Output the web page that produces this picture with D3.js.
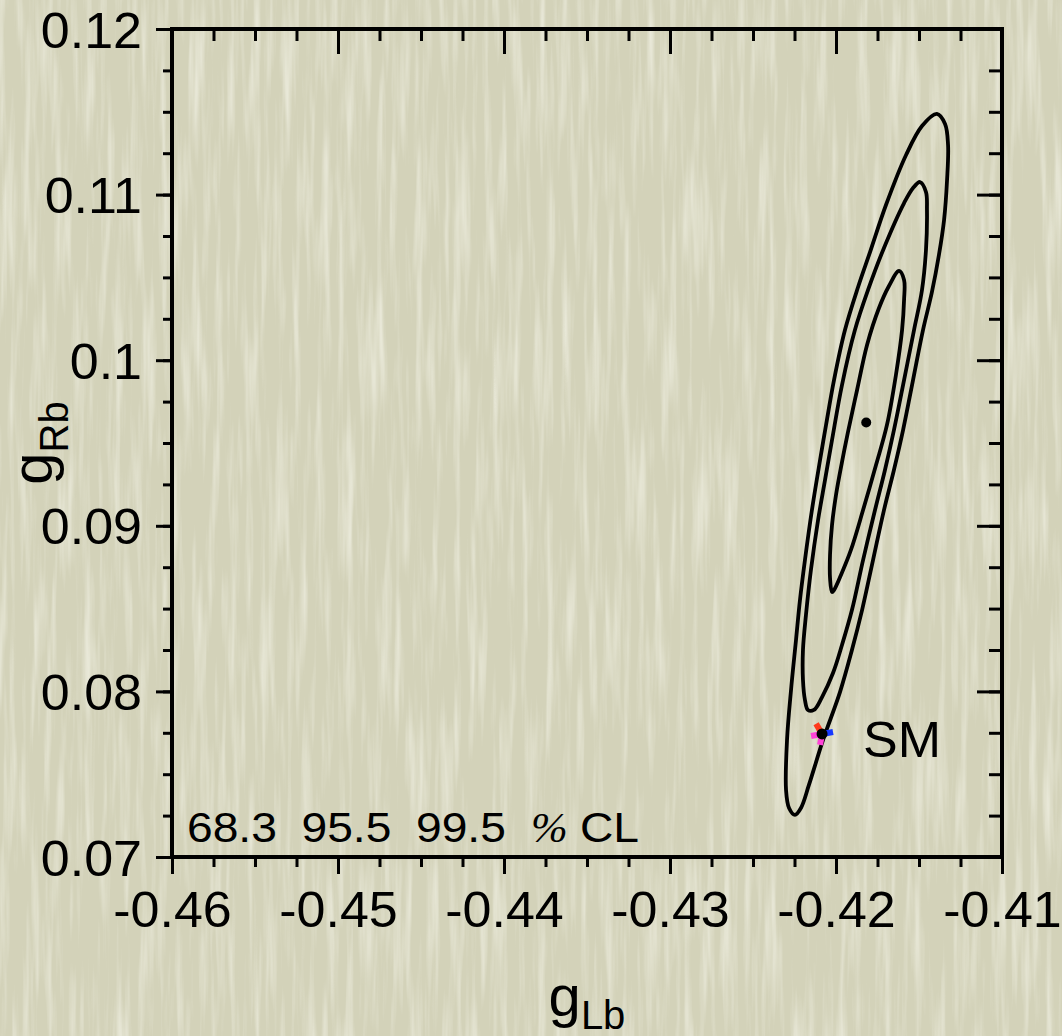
<!DOCTYPE html>
<html>
<head>
<meta charset="utf-8">
<title>gLb - gRb confidence contours</title>
<script src="https://d3js.org/d3.v7.min.js"></script>
<style>
body { margin: 0; background: #d4d3bc; }
svg { display: block; }
text { font-family: "Liberation Sans", Arial, Helvetica, sans-serif; fill: #000; }
</style>
</head>
<body>
<svg id="chart" width="1062" height="1036"></svg>
<script>
// axis setup
const xDomain = [-0.46, -0.41];
const yDomain = [0.07, 0.12];
const xTicks = [-0.46, -0.45, -0.44, -0.43, -0.42, -0.41];
const xTickLabels = ["-0.46", "-0.45", "-0.44", "-0.43", "-0.42", "-0.41"];
const yTicks = [0.07, 0.08, 0.09, 0.1, 0.11, 0.12];
const yTickLabels = ["0.07", "0.08", "0.09", "0.1", "0.11", "0.12"];
const minorStep = 0.0025;

// contours, [gLb, gRb]
const contour995 = [
  [-0.41392, 0.11487], [-0.41343, 0.11426], [-0.41325, 0.11300], [-0.41331, 0.11088],
  [-0.41349, 0.10847], [-0.41380, 0.10635], [-0.41422, 0.10412], [-0.41476, 0.10182],
  [-0.41536, 0.09880], [-0.41596, 0.09578], [-0.41651, 0.09337], [-0.41711, 0.09095],
  [-0.41777, 0.08793], [-0.41843, 0.08491], [-0.41904, 0.08250], [-0.41976, 0.07996],
  [-0.42078, 0.07707], [-0.42163, 0.07435], [-0.42211, 0.07296], [-0.42247, 0.07254],
  [-0.42283, 0.07296], [-0.42301, 0.07405], [-0.42295, 0.07707], [-0.42271, 0.08008],
  [-0.42241, 0.08310], [-0.42217, 0.08552], [-0.42187, 0.08793], [-0.42145, 0.09095],
  [-0.42096, 0.09397], [-0.42060, 0.09609], [-0.42012, 0.09880], [-0.41946, 0.10182],
  [-0.41867, 0.10442], [-0.41795, 0.10653], [-0.41699, 0.10937], [-0.41578, 0.11239],
  [-0.41482, 0.11414]
];
const contour955 = [
  [-0.41494, 0.11076], [-0.41458, 0.11016], [-0.41452, 0.10907], [-0.41458, 0.10665],
  [-0.41482, 0.10424], [-0.41530, 0.10182], [-0.41590, 0.09880], [-0.41651, 0.09578],
  [-0.41705, 0.09337], [-0.41765, 0.09095], [-0.41837, 0.08793], [-0.41904, 0.08491],
  [-0.41964, 0.08280], [-0.42018, 0.08111], [-0.42084, 0.07966], [-0.42133, 0.07888],
  [-0.42169, 0.07888], [-0.42187, 0.07948], [-0.42199, 0.08069], [-0.42199, 0.08250],
  [-0.42181, 0.08461], [-0.42151, 0.08733], [-0.42108, 0.09035], [-0.42066, 0.09277],
  [-0.42024, 0.09518], [-0.41964, 0.09850], [-0.41886, 0.10182], [-0.41807, 0.10424],
  [-0.41711, 0.10678], [-0.41590, 0.10949], [-0.41536, 0.11040]
];
const contour683 = [
  [-0.41620, 0.10539], [-0.41590, 0.10484], [-0.41590, 0.10364], [-0.41602, 0.10182],
  [-0.41639, 0.09911], [-0.41693, 0.09609], [-0.41759, 0.09367], [-0.41837, 0.09095],
  [-0.41910, 0.08854], [-0.41970, 0.08703], [-0.42012, 0.08612], [-0.42024, 0.08600],
  [-0.42036, 0.08685], [-0.42036, 0.08824], [-0.42024, 0.09005], [-0.42000, 0.09186],
  [-0.41964, 0.09385], [-0.41928, 0.09566], [-0.41873, 0.09820], [-0.41813, 0.10092],
  [-0.41741, 0.10315], [-0.41681, 0.10448]
];
const bestFit = [-0.41818, 0.09624];
const smPoint = [-0.42084, 0.07743];
// SM shifts for parameter variations [dgLb, dgRb]
const smShifts = [[-0.00036, 0.00062], [0.00066, 0.00012], [-0.00066, -0.00012], [-0.00012, -0.00066]];
const smShiftColors = ["#ff3a1c", "#1638ff", "#ff44d8", "#ff44d8"];
const clLevels = ["68.3", "95.5", "99.5"];

const W = 1062, H = 1036;
const plot = {left: 172, right: 1002, top: 29, bottom: 857};
const svg = d3.select("#chart");

const x = d3.scaleLinear().domain(xDomain).range([plot.left, plot.right]);
const y = d3.scaleLinear().domain(yDomain).range([plot.bottom, plot.top]);

// paper background with fine vertical streaks
const defs = svg.append("defs");
const flt = defs.append("filter").attr("id", "paper")
  .attr("x", 0).attr("y", 0).attr("width", "100%").attr("height", "100%");
flt.append("feTurbulence").attr("type", "fractalNoise")
  .attr("baseFrequency", "0.13 0.007").attr("numOctaves", 3).attr("seed", 11).attr("result", "n");
flt.append("feColorMatrix").attr("in", "n").attr("type", "matrix")
  .attr("values", "0 0 0 0 1  0 0 0 0 1  0 0 0 0 0.94  1.1 0 0 0 -0.5");
svg.append("rect").attr("width", W).attr("height", H).attr("fill", "#d3d2b9");
svg.append("rect").attr("width", W).attr("height", H).attr("fill", "#fff").attr("filter", "url(#paper)");

const minorX = d3.range(0, 21).map(i => xDomain[0] + i * minorStep);
const minorY = d3.range(0, 21).map(i => yDomain[0] + i * minorStep);

function addAxis(gen, tx, ty) {
  const g = svg.append("g").attr("transform", `translate(${tx},${ty})`).call(gen);
  g.select(".domain").remove();
  g.selectAll(".tick line").attr("stroke", "#000").attr("stroke-width", 3);
  return g;
}

// minor + major ticks, left/bottom outward, top/right inward
addAxis(d3.axisLeft(y).tickValues(minorY).tickSize(9).tickFormat(""), plot.left, 0);
addAxis(d3.axisBottom(x).tickValues(minorX).tickSize(10).tickFormat(""), 0, plot.bottom);
addAxis(d3.axisLeft(y).tickValues(minorY).tickSize(13).tickFormat(""), plot.right, 0);
addAxis(d3.axisBottom(x).tickValues(minorX).tickSize(12).tickFormat(""), 0, plot.top);
addAxis(d3.axisLeft(y).tickValues(yTicks).tickSize(25).tickFormat(""), plot.right, 0);
addAxis(d3.axisBottom(x).tickValues(xTicks).tickSize(25).tickFormat(""), 0, plot.top);

const yAx = addAxis(d3.axisLeft(y).tickValues(yTicks).tickSize(16).tickFormat((d, i) => yTickLabels[i]), plot.left, 0);
yAx.selectAll("text")
  .attr("x", 0).attr("dy", "0.36em")
  .attr("transform", "translate(-30,0) scale(1.04,1)")
  .attr("font-size", 50).attr("font-family", null);

const xAx = addAxis(d3.axisBottom(x).tickValues(xTicks).tickSize(17).tickFormat((d, i) => xTickLabels[i]), 0, plot.bottom);
xAx.selectAll("text")
  .attr("y", 0).attr("dy", "0.71em")
  .attr("transform", "translate(0,34) scale(1.04,1)")
  .attr("font-size", 50).attr("font-family", null);

// frame
svg.append("rect")
  .attr("x", plot.left).attr("y", plot.top)
  .attr("width", plot.right - plot.left).attr("height", plot.bottom - plot.top)
  .attr("fill", "none").attr("stroke", "#000").attr("stroke-width", 4);

// contours
const line = d3.line().x(d => x(d[0])).y(d => y(d[1])).curve(d3.curveCatmullRomClosed.alpha(0.5));
svg.append("g").selectAll("path")
  .data([contour995, contour955, contour683])
  .join("path")
  .attr("d", line)
  .attr("fill", "none").attr("stroke", "#000").attr("stroke-width", 3.8)
  .attr("stroke-linejoin", "round");

svg.append("circle").attr("cx", x(bestFit[0])).attr("cy", y(bestFit[1])).attr("r", 5).attr("fill", "#000");

// SM point with parameter shifts
svg.append("g").selectAll("line")
  .data(smShifts)
  .join("line")
  .attr("x1", x(smPoint[0])).attr("y1", y(smPoint[1]))
  .attr("x2", d => x(smPoint[0] + d[0])).attr("y2", d => y(smPoint[1] + d[1]))
  .attr("stroke", (d, i) => smShiftColors[i]).attr("stroke-width", 6);
svg.append("circle").attr("cx", x(smPoint[0])).attr("cy", y(smPoint[1])).attr("r", 5.5).attr("fill", "#000");

svg.append("text")
  .attr("transform", `translate(${x(smPoint[0]) + 41},${y(smPoint[1]) + 23}) scale(1.04,1)`)
  .attr("font-size", 50).text("SM");

// CL legend
const leg = svg.append("g").attr("transform", `translate(${plot.left + 15},842)`);
leg.selectAll("text.cl")
  .data(clLevels)
  .join("text").attr("class", "cl")
  .attr("transform", (d, i) => `translate(${i * 114.5},0) scale(1.1,1)`)
  .attr("font-size", 42).text(d => d);
leg.append("text")
  .attr("transform", "translate(344,0) scale(1.05,1)")
  .attr("font-size", 42).attr("font-style", "italic")
  .style("font-family", "'Liberation Serif', 'Times New Roman', serif")
  .text("%");
leg.append("text")
  .attr("transform", "translate(393,0) scale(1.1,1)")
  .attr("font-size", 42).text("CL");

// axis titles
const xt = svg.append("text")
  .attr("x", (plot.left + plot.right) / 2).attr("y", 1016)
  .attr("text-anchor", "middle").attr("font-size", 58);
xt.append("tspan").text("g");
xt.append("tspan").attr("font-size", 40).attr("dy", 13).text("Lb");

const yt = svg.append("text")
  .attr("transform", `translate(52,${(plot.top + plot.bottom) / 2}) rotate(-90)`)
  .attr("text-anchor", "middle").attr("font-size", 58);
yt.append("tspan").text("g");
yt.append("tspan").attr("font-size", 40).attr("dy", 16).text("Rb");
</script>
</body>
</html>
